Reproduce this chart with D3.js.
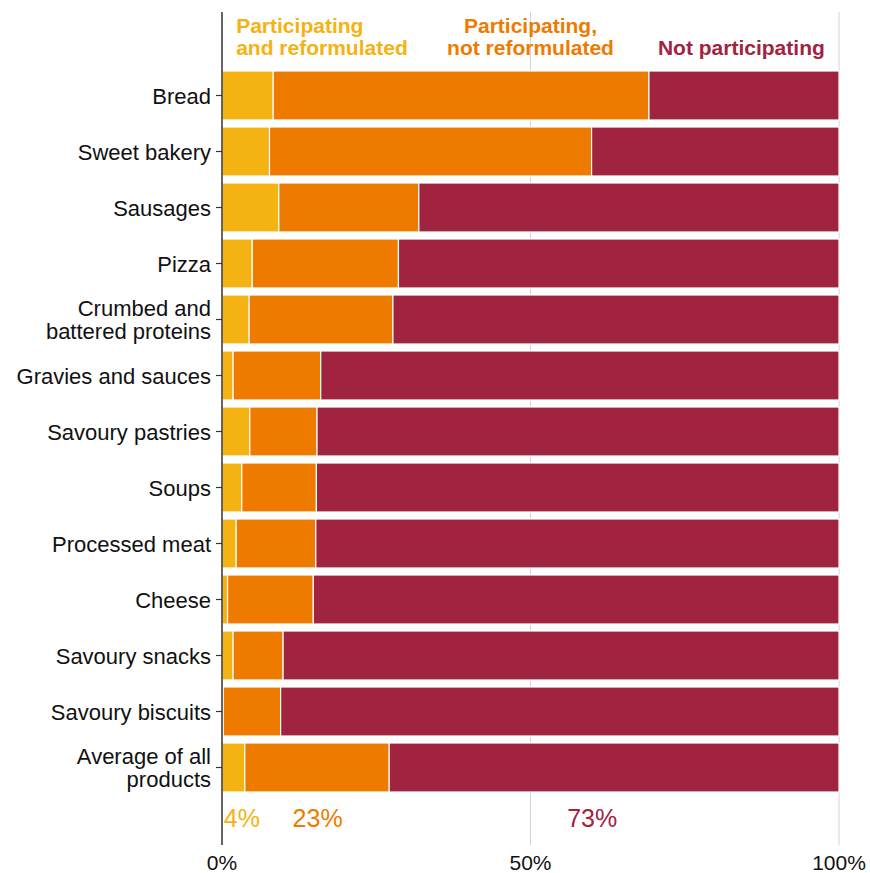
<!DOCTYPE html>
<html>
<head>
<meta charset="utf-8">
<script src="https://cdn.jsdelivr.net/npm/d3@7"></script>
<style>
  body { margin: 0; background: #fff; }
  text { font-family: "Liberation Sans", Arial, sans-serif; }
</style>
</head>
<body>
<svg id="chart" width="870" height="873"></svg>
<script>
// categories, top to bottom
const categories = [
  "Bread", "Sweet bakery", "Sausages", "Pizza", "Crumbed and\nbattered proteins",
  "Gravies and sauces", "Savoury pastries", "Soups", "Processed meat", "Cheese",
  "Savoury snacks", "Savoury biscuits", "Average of all\nproducts"
];
// % participating and reformulated
const reformulated = [8.3, 7.7, 9.2, 4.9, 4.4, 1.8, 4.5, 3.2, 2.3, 0.9, 1.8, 0.2, 3.7];
// % participating, not reformulated
const notReformulated = [60.9, 52.2, 22.7, 23.7, 23.3, 14.2, 10.9, 12.1, 12.9, 13.9, 8.1, 9.3, 23.4];
// % not participating (the rest)
const notParticipating = reformulated.map((v, i) => 100 - v - notReformulated[i]);

const seriesKeys = ["ref", "notref", "notpart"];
const seriesColors = ["#F4B312", "#EF7A00", "#A0243F"];
const legendLines = [
  ["Participating", "and reformulated"],
  ["Participating,", "not reformulated"],
  ["Not participating"]
];
const xTicks = [0, 50, 100];
const avgLabels = ["4%", "23%", "73%"];
const avgLabelPos = [0.3, 15.5, 60]; // where each label sits on the x axis

const svg = d3.select("#chart");
const mLeft = 222, mRight = 839, mTop = 12, mBottom = 845;

const x = d3.scaleLinear().domain([0, 100]).range([mLeft, mRight]);
const y = d3.scaleBand().domain(categories).range([71, 792]).paddingInner(0.125).paddingOuter(0);

const rows = categories.map((c, i) => ({
  cat: c, ref: reformulated[i], notref: notReformulated[i], notpart: notParticipating[i]
}));
const stacked = d3.stack().keys(seriesKeys)(rows);

// grid lines
svg.append("g").selectAll("line")
  .data(xTicks.filter(t => t > 0))
  .join("line")
  .attr("x1", d => x(d)).attr("x2", d => x(d))
  .attr("y1", mTop).attr("y2", mBottom)
  .attr("stroke", "#cfd3d8").attr("stroke-width", 1);

// bars
svg.append("g").selectAll("g")
  .data(stacked)
  .join("g")
  .attr("fill", (d, i) => seriesColors[i])
  .selectAll("rect")
  .data(d => d)
  .join("rect")
  .attr("x", d => x(d[0]))
  .attr("width", d => Math.max(0, x(d[1]) - x(d[0])))
  .attr("y", d => y(d.data.cat))
  .attr("height", y.bandwidth())
  .attr("stroke", "#fff")
  .attr("stroke-width", 1.2);

// y axis
const yAxis = svg.append("g")
  .attr("transform", `translate(${mLeft},0)`)
  .call(d3.axisLeft(y).tickSize(6).tickSizeOuter(0).tickFormat(""));
yAxis.select(".domain").remove();
yAxis.selectAll(".tick line").attr("stroke", "#333").attr("stroke-width", 1.2);

yAxis.selectAll(".tick").each(function(d) {
  const lines = d.split("\n");
  const t = d3.select(this).append("text")
    .attr("x", -11)
    .attr("text-anchor", "end")
    .attr("fill", "#111")
    .style("font-size", "22px");
  const first = lines.length === 1 ? 8 : -3.5;
  lines.forEach((ln, k) => {
    t.append("tspan").attr("x", -11).attr("y", first + k * 23).text(ln);
  });
});

svg.append("line")
  .attr("x1", mLeft).attr("x2", mLeft)
  .attr("y1", mTop).attr("y2", mBottom)
  .attr("stroke", "#333").attr("stroke-width", 1.5);

// x tick labels
svg.append("g").selectAll("text")
  .data(xTicks)
  .join("text")
  .attr("x", d => x(d))
  .attr("y", 870)
  .attr("text-anchor", "middle")
  .attr("fill", "#111")
  .style("font-size", "21px")
  .text(d => d + "%");

// legend at top
const legendX = [x(2.3), x(50), x(97.7)];
const legendAnchor = ["start", "middle", "end"];
legendLines.forEach((lines, i) => {
  const t = svg.append("text")
    .attr("text-anchor", legendAnchor[i])
    .attr("fill", seriesColors[i])
    .style("font-size", "21px")
    .style("font-weight", "bold");
  const startY = lines.length === 1 ? 55 : 33;
  lines.forEach((ln, k) => {
    t.append("tspan").attr("x", legendX[i]).attr("y", startY + k * 22).text(ln);
  });
});

// average labels under the last bar
svg.append("g").selectAll("text")
  .data(avgLabels)
  .join("text")
  .attr("x", (d, i) => x(avgLabelPos[i]))
  .attr("y", 827)
  .attr("text-anchor", (d, i) => i === 0 ? "start" : "middle")
  .attr("fill", (d, i) => seriesColors[i])
  .style("font-size", "25px")
  .text(d => d);
</script>
</body>
</html>
